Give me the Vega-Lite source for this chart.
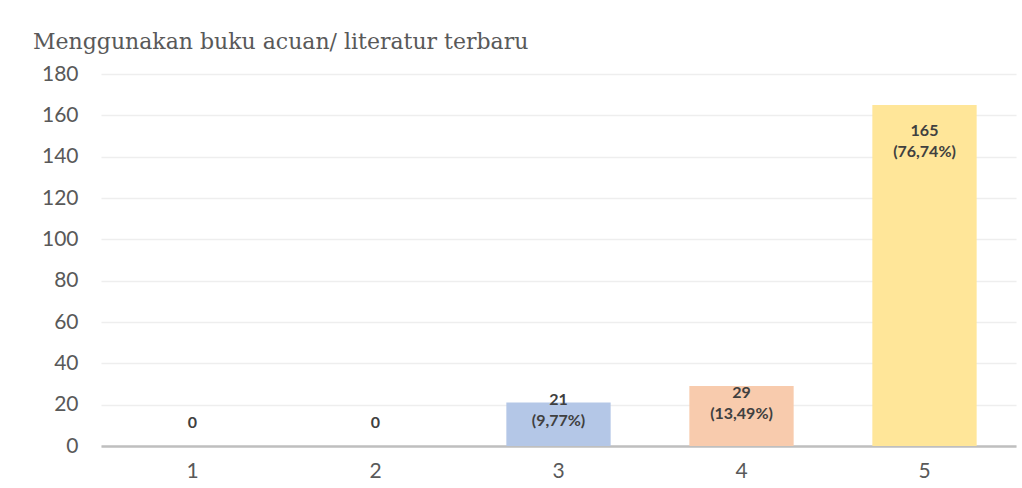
{
  "$schema": "https://vega.github.io/schema/vega-lite/v6.json",
  "width": 915,
  "height": 372,
  "autosize": {"type": "none"},
  "padding": {"left": 101, "top": 74, "right": 6, "bottom": 42},
  "background": "white",
  "config": {"view": {"stroke": null}},
  "title": {
    "text": "Menggunakan buku acuan/ literatur terbaru",
    "anchor": "start",
    "frame": "group",
    "dx": -68,
    "offset": 9,
    "font": "DejaVu Serif",
    "fontSize": 22,
    "fontWeight": "normal",
    "color": "#595959"
  },
  "data": {
    "values": [
      {"skor": "1", "jumlah": 0, "persen": ""},
      {"skor": "2", "jumlah": 0, "persen": ""},
      {"skor": "3", "jumlah": 21, "persen": "(9,77%)"},
      {"skor": "4", "jumlah": 29, "persen": "(13,49%)"},
      {"skor": "5", "jumlah": 165, "persen": "(76,74%)"}
    ]
  },
  "encoding": {
    "x": {
      "field": "skor",
      "type": "nominal",
      "sort": null,
      "scale": {"paddingInner": 0.43, "paddingOuter": 0.215},
      "axis": {
        "title": null,
        "labelAngle": 0,
        "labelFont": "Lato",
        "labelFontSize": 21,
        "labelColor": "#595959",
        "labelPadding": 14,
        "ticks": false,
        "domainColor": "#bfbfbf",
        "domainWidth": 2.5,
        "grid": false
      }
    }
  },
  "layer": [
    {
      "mark": {"type": "bar"},
      "encoding": {
        "y": {
          "field": "jumlah",
          "type": "quantitative",
          "scale": {"domain": [0, 180], "nice": false},
          "axis": {
            "title": null,
            "values": [0, 20, 40, 60, 80, 100, 120, 140, 160, 180],
            "labelFont": "Lato",
            "labelFontSize": 21,
            "labelColor": "#595959",
            "labelPadding": 23,
            "ticks": false,
            "domain": false,
            "gridColor": "#eeeeee",
            "gridWidth": 1.5
          }
        },
        "color": {
          "field": "skor",
          "type": "nominal",
          "scale": {
            "domain": ["1", "2", "3", "4", "5"],
            "range": ["#a5a5a5", "#c9c9c9", "#b4c7e7", "#f8cbad", "#ffe699"]
          },
          "legend": null
        }
      }
    },
    {
      "transform": [
        {"calculate": "datum.jumlah == 0 ? [format(datum.jumlah, 'd')] : [format(datum.jumlah, 'd'), datum.persen]", "as": "label"},
        {"calculate": "datum.jumlah == 0 ? 11 : max(datum.jumlah - 12.6, datum.jumlah * 0.4 + 14)", "as": "pos"}
      ],
      "mark": {
        "type": "text",
        "font": "Lato",
        "fontSize": 16,
        "fontWeight": "bold",
        "color": "#404040",
        "baseline": "middle",
        "lineHeight": 21
      },
      "encoding": {
        "y": {"field": "pos", "type": "quantitative"},
        "text": {"field": "label"}
      }
    }
  ]
}
